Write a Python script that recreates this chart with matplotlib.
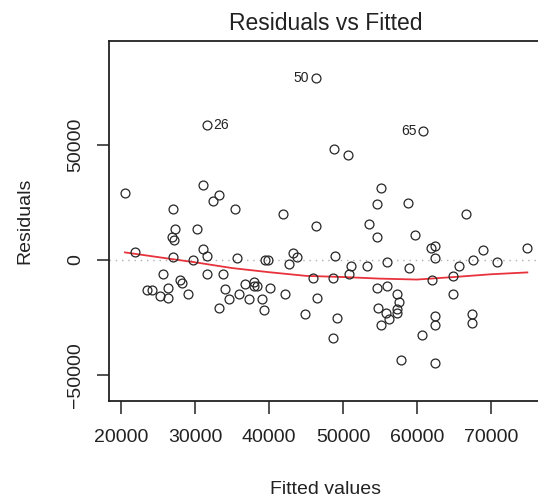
import matplotlib
matplotlib.use('Agg')
import matplotlib.pyplot as plt

plt.rcParams['font.family'] = ['Liberation Sans', 'DejaVu Sans']

fitted = [20540, 31040, 33290, 32390, 27070, 35360, 41850, 46350, 27300, 30230,
          26890, 27120, 21890, 31040, 31580, 27070, 29770, 35630, 39460, 39910,
          43200, 43740, 42740, 25630, 27970, 28200, 31580, 33740, 23470, 24140,
          25270, 26390, 26390, 29100, 33230, 34050, 34640, 35990, 36760, 37340,
          37970, 37970, 38330, 39010, 39320, 40140, 42160, 44860, 45990, 46530,
          46351, 31581, 60850, 48820, 50630, 55140, 54550, 58830, 66580, 53510,
          54550, 59730, 62430, 61850, 62430, 68880, 74910, 48920, 51040, 50860,
          53280, 55980, 58950, 65720, 67520, 70850, 64910, 61990, 48690, 54620,
          55980, 57330, 57590, 54770, 55810, 56260, 57330, 57330, 55090, 49230,
          48600, 57770, 62430, 62430, 60630, 62430, 64800, 67390, 67390]
residuals = [29180, 32760, 28450, 25730, 22270, 22270, 19830, 14660, 13650, 13650,
             10060, 8620, 3580, 4610, 1720, 1150, 0, 1010, 0, 0,
             2870, 1150, -1720, -6030, -8900, -10060, -6030, -6030, -12930, -12930,
             -15520, -12210, -16510, -14790, -20830, -12640, -16950, -14790, -10340, -16950,
             -9770, -11210, -11210, -16950, -21550, -12210, -14790, -23420, -7900, -16510,
             79310, 58620, 56030, 48410, 45690, 31160, 24140, 24870, 19830, 15520,
             10060, 10780, 6030, 5040, 730, 4310, 5040, 1720, -2590, -6030,
             -2590, -720, -3590, -2590, 0, -720, -6900, -8620, -7900, -12210,
             -11210, -14790, -18390, -20830, -22990, -25860, -21260, -22990, -28450, -25140,
             -33760, -43390, -24430, -28450, -32760, -44830, -14790, -23280, -27590]

# labelled (most extreme) observations: index into the arrays, label text
label_index = [50, 51, 52]
label_text = ['50', '26', '65']
label_side = ['left', 'right', 'left']

# smoother
smooth_x = [20540, 26000, 30000, 35000, 40000, 45000, 50000, 55000, 60000, 65000, 70000, 74910]
smooth_y = [3300, 800, -1000, -3500, -5300, -6900, -7400, -8100, -8500, -7400, -6200, -5400]

xticks = [20000, 30000, 40000, 50000, 60000, 70000]
yticks = [-50000, 0, 50000]

W, H = 538, 497
fig = plt.figure(figsize=(W / 100, H / 100), dpi=100)
ax = fig.add_axes([109 / W, (H - 401) / H, (W - 109) / W, 360 / H])

ax.axhline(0, color='#b0b0b0', ls=(0, (1, 3.5)), lw=1.0, zorder=1)
ax.plot(fitted, residuals, 'o', mfc='none', mec='#262626', ms=6.4, mew=0.9, zorder=3)
ax.plot(smooth_x, smooth_y, color='#e8323c', lw=1.3, zorder=2)

for i, t, s in zip(label_index, label_text, label_side):
    dx = -5 if s == 'left' else 5
    ax.annotate(t, (fitted[i], residuals[i]), xytext=(dx, 0), textcoords='offset points',
                ha='right' if s == 'left' else 'left', va='center', fontsize=10, color='#222222')

ax.set_xlim(18378, 76351)
ax.set_ylim(-61304, 95217)
ax.set_xticks(xticks)
ax.set_xticklabels([str(v) for v in xticks])
ax.set_yticks(yticks)
ax.set_yticklabels([str(v).replace('-', '\u2212') for v in yticks], rotation=90, va='center')

for sp in ['top', 'left', 'bottom']:
    ax.spines[sp].set_linewidth(1.3)
    ax.spines[sp].set_color('#222222')
ax.spines['right'].set_visible(False)
ax.tick_params(axis='both', length=9, width=1.1, color='#222222', labelsize=14, labelcolor='#222222')
ax.tick_params(axis='x', pad=11)
ax.tick_params(axis='y', pad=9)

fig.text(326 / W, 1 - 30 / H, 'Residuals vs Fitted', ha='center', va='baseline', fontsize=16.5, color='#222222')
fig.text(326 / W, 1 - 494 / H, 'Fitted values', ha='center', va='baseline', fontsize=14, color='#222222')
fig.text(25 / W, 1 - 221 / H, 'Residuals', ha='center', va='center', rotation=90, fontsize=14, color='#222222')

fig.savefig('out.png', dpi=100)
